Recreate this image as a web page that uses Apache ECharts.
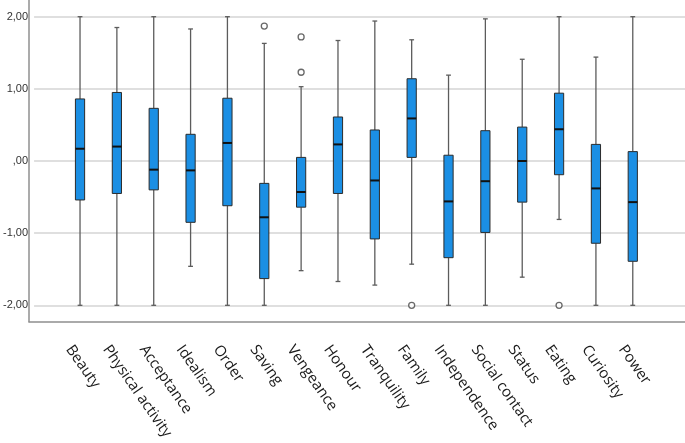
<!DOCTYPE html>
<html>
<head>
<meta charset="utf-8">
<script src="https://cdn.jsdelivr.net/npm/echarts@6/dist/echarts.min.js"></script>
<style>
html,body{margin:0;padding:0;background:#fff;}
#chart{width:685px;height:443px;}
</style>
</head>
<body>
<div id="chart"></div>
<script>
var categories = ['Beauty','Physical activity','Acceptance','Idealism','Order','Saving','Vengeance','Honour','Tranquility','Family','Independence','Social contact','Status','Eating','Curiosity','Power'];
var whiskerLow = [-2.00,-2.00,-2.00,-1.46,-2.00,-2.00,-1.52,-1.67,-1.72,-1.43,-2.00,-2.00,-1.61,-0.81,-2.00,-2.00];
var q1Values   = [-0.54,-0.45,-0.40,-0.85,-0.62,-1.63,-0.64,-0.45,-1.08,0.05,-1.34,-0.99,-0.57,-0.19,-1.14,-1.39];
var medians    = [0.17,0.20,-0.12,-0.13,0.25,-0.78,-0.43,0.23,-0.27,0.59,-0.56,-0.28,0.00,0.44,-0.38,-0.57];
var q3Values   = [0.86,0.95,0.73,0.37,0.87,-0.31,0.05,0.61,0.43,1.14,0.08,0.42,0.47,0.94,0.23,0.13];
var whiskerHigh= [2.00,1.85,2.00,1.83,2.00,1.63,1.03,1.67,1.94,1.68,1.19,1.97,1.41,2.00,1.44,2.00];
var outlierCategory = ['Saving','Vengeance','Vengeance','Family','Eating'];
var outlierValues   = [1.87,1.72,1.23,-2.00,-2.00];
var yTickValues = [-2,-1,0,1,2];
var yTickLabels = ['-2,00','-1,00',',00','1,00','2,00'];

var boxData = categories.map(function(c,i){
  return [i, whiskerLow[i], q1Values[i], medians[i], q3Values[i], whiskerHigh[i]];
});
var outlierData = outlierCategory.map(function(c,i){
  return [categories.indexOf(c), outlierValues[i]];
});

var chart = echarts.init(document.getElementById('chart'), null, {renderer:'canvas'});

var plotTop = 16.7, plotBottom = 137.7;
var option = {
  animation:false,
  backgroundColor:'#ffffff',
  grid:[
    {left:61.6, right:33.8, top:plotTop, bottom:plotBottom},   // boxes
    {left:29, right:0, top:0, bottom:121.3},                  // frame
    {left:29, right:0, top:plotTop, bottom:plotBottom},       // y labels + gridlines
    {left:50.6, right:44.8, top:plotTop, bottom:121.3}        // x labels
  ],
  xAxis:[
    {gridIndex:0, type:'category', data:categories, axisLine:{show:false}, axisTick:{show:false}, axisLabel:{show:false}, splitLine:{show:false}},
    {gridIndex:1, type:'value', min:0, max:1, axisLine:{show:true, onZero:false, lineStyle:{color:'#8f8f8f', width:1.5}}, axisTick:{show:false}, axisLabel:{show:false}, splitLine:{show:false}},
    {gridIndex:2, type:'value', min:0, max:1, show:false},
    {gridIndex:3, type:'category', data:categories, axisLine:{show:false}, axisTick:{show:false}, splitLine:{show:false},
      axisLabel:{show:true, interval:0, rotate:-55, margin:25, fontFamily:'Open Sans', fontSize:15, color:'#1a1a1a'}}
  ],
  yAxis:[
    {gridIndex:0, type:'value', min:-2, max:2, interval:1, show:false},
    {gridIndex:1, type:'value', min:0, max:1, axisLine:{show:true, onZero:false, lineStyle:{color:'#8f8f8f', width:1.5}}, axisTick:{show:false}, axisLabel:{show:false}, splitLine:{show:false}},
    {gridIndex:2, type:'value', min:-2, max:2, interval:1, axisLine:{show:false}, axisTick:{show:false},
      axisLabel:{show:true, margin:6, fontFamily:'Liberation Sans', fontSize:11, color:'#333',
        formatter:function(v){ var k = yTickValues.indexOf(Math.round(v)); return k>=0 ? yTickLabels[k] : ''; }},
      splitLine:{show:true, lineStyle:{color:'#d4d4d4', width:1.5}}},
    {gridIndex:3, type:'value', show:false}
  ],
  series:[
    {
      type:'custom', xAxisIndex:0, yAxisIndex:0, z:3,
      data:boxData,
      encode:{x:0, y:[1,2,3,4,5]},
      renderItem:function(params, api){
        var idx = api.value(0);
        var pLow = api.coord([idx, api.value(1)]);
        var pQ1 = api.coord([idx, api.value(2)]);
        var pMed = api.coord([idx, api.value(3)]);
        var pQ3 = api.coord([idx, api.value(4)]);
        var pHigh = api.coord([idx, api.value(5)]);
        var band = api.size([1,0])[0];
        var bw = band*0.25;
        var cw = 2.4;
        var x = pMed[0];
        return {
          type:'group',
          children:[
            {type:'line', shape:{x1:x, y1:pHigh[1], x2:x, y2:pQ3[1]}, style:{stroke:'#5c5c5c', lineWidth:1.3}},
            {type:'line', shape:{x1:x, y1:pQ1[1], x2:x, y2:pLow[1]}, style:{stroke:'#5c5c5c', lineWidth:1.3}},
            {type:'line', shape:{x1:x-cw, y1:pHigh[1], x2:x+cw, y2:pHigh[1]}, style:{stroke:'#5c5c5c', lineWidth:1.3}},
            {type:'line', shape:{x1:x-cw, y1:pLow[1], x2:x+cw, y2:pLow[1]}, style:{stroke:'#5c5c5c', lineWidth:1.3}},
            {type:'rect', shape:{x:x-bw/2, y:pQ3[1], width:bw, height:pQ1[1]-pQ3[1]}, style:{fill:'#1b8fe4', stroke:'#2b2b2b', lineWidth:1}},
            {type:'line', shape:{x1:x-bw/2, y1:pMed[1], x2:x+bw/2, y2:pMed[1]}, style:{stroke:'#111111', lineWidth:2}}
          ]
        };
      }
    },
    {
      type:'scatter', xAxisIndex:0, yAxisIndex:0, z:4,
      data:outlierData,
      symbol:'circle', symbolSize:6,
      itemStyle:{color:'#ffffff', borderColor:'#444444', borderWidth:1.3}
    }
  ]
};
chart.setOption(option);
</script>
</body>
</html>
